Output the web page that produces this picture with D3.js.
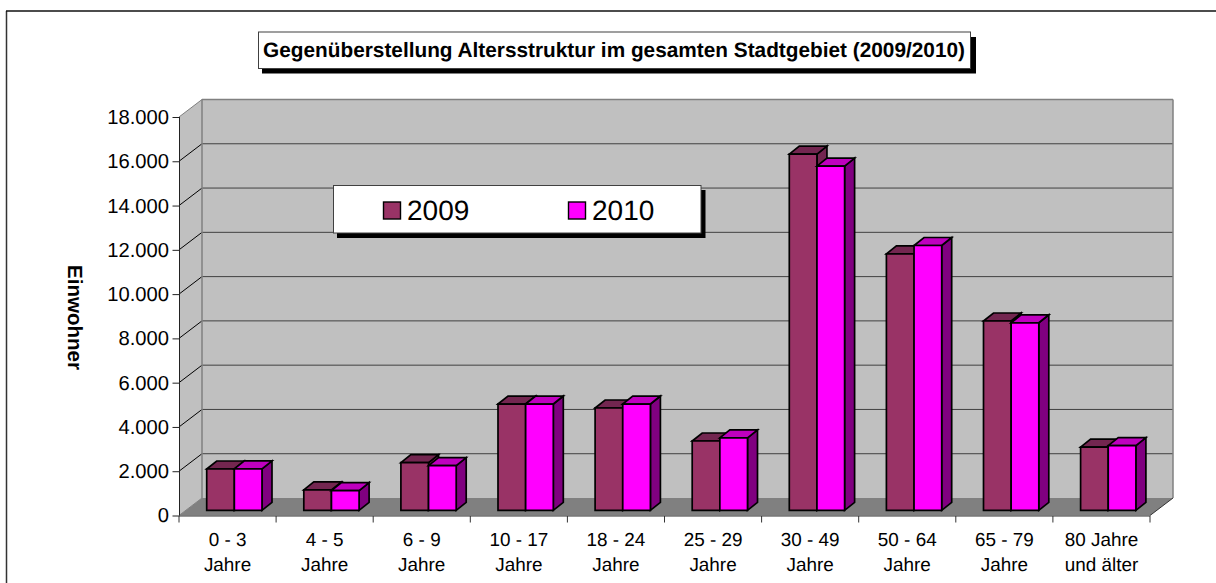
<!DOCTYPE html>
<html><head><meta charset="utf-8"><script src="https://cdn.jsdelivr.net/npm/d3@7"></script>
<style>html,body{margin:0;padding:0;background:#fff;overflow:hidden}svg{display:block}text{font-family:"Liberation Sans",Arial,sans-serif;fill:#000;text-rendering:geometricPrecision}</style></head>
<body><svg id="c" width="1216" height="583"></svg>
<script>
const categories=[["0 - 3","Jahre"],["4 - 5","Jahre"],["6 - 9","Jahre"],["10 - 17","Jahre"],["18 - 24","Jahre"],["25 - 29","Jahre"],["30 - 49","Jahre"],["50 - 64","Jahre"],["65 - 79","Jahre"],["80 Jahre","und älter"]];
const years=["2009","2010"];
const values2009=[1865,920,2150,4800,4620,3130,16090,11580,8550,2850];
const values2010=[1870,890,2015,4800,4800,3270,15550,11960,8470,2920];
const yTicks=[0,2000,4000,6000,8000,10000,12000,14000,16000,18000];
const titleText="Gegenüberstellung Altersstruktur im gesamten Stadtgebiet (2009/2010)";
const yTitle="Einwohner";
const fmt=d=>d===0?"0":d3.format(",")(d).replace(/,/g,".");

const svg=d3.select("#c");
const X0=179,X1=1150,Y0=515.5,Y1=117,DX=23,DY=17.5;
const x=d3.scaleBand().domain(categories.map((d,i)=>i)).range([X0,X1]);
const y=d3.scaleLinear().domain([0,18000]).range([Y0,Y1]);
const poly=(g,pts,fill,stroke,sw)=>g.append("polygon").attr("points",pts.map(p=>p.join(",")).join(" ")).attr("fill",fill).attr("stroke",stroke||"none").attr("stroke-width",sw||0).attr("stroke-linejoin","miter");
const line=(g,a,b,c,w)=>g.append("line").attr("x1",a[0]).attr("y1",a[1]).attr("x2",b[0]).attr("y2",b[1]).attr("stroke",c).attr("stroke-width",w);

// outer frame: only left and top edges fall inside the picture
line(svg,[6.5,11],[6.5,583],"#333",1.5);
line(svg,[6,11],[1216,11],"#111",1.3);

// walls
const g=svg.append("g");
poly(g,[[X0+DX,Y1-DY],[X1+DX,Y1-DY],[X1+DX,Y0-DY],[X0+DX,Y0-DY]],"#c0c0c0");
poly(g,[[X0,Y1],[X0+DX,Y1-DY],[X0+DX,Y0-DY],[X0,Y0]],"#c0c0c0");
poly(g,[[X0,Y0],[X0+DX,Y0-DY],[X1+DX,Y0-DY],[X1,Y0]],"#808080");
// gridlines
yTicks.slice(1).forEach(t=>{
  const yy=y(t);
  if(t<18000){line(g,[X0+DX,yy-DY],[X1+DX,yy-DY],"#404040",1);}
  line(g,[X0,yy],[X0+DX,yy-DY],t<18000?"#000":"#808080",1);
});
// wall borders
line(g,[X0+DX,Y1-DY],[X1+DX,Y1-DY],"#808080",1.5);
line(g,[X0+DX,Y1-DY],[X0+DX,Y0-DY],"#808080",1.5);
line(g,[X1+DX,Y1-DY],[X1+DX,Y0-DY],"#808080",1.5);
line(g,[X0,Y0],[X0+DX,Y0-DY],"#808080",1);
line(g,[X1,Y0],[X1+DX,Y0-DY],"#333",1);

// bars
const inner=d3.scaleBand().domain(years).range([27.7,83]);
const bdx=10,bdy=8,offY=5.2;
function bar(i,yr,v,front,top,side){
  const l=x(i)+inner(yr),r=l+inner.bandwidth(),b=y(0)-offY,t=y(v)-offY;
  const bg=g.append("g");
  poly(bg,[[r,t],[r+bdx,t-bdy],[r+bdx,b-bdy],[r,b]],side,"#000",1.7);
  poly(bg,[[l,t],[l+bdx,t-bdy],[r+bdx,t-bdy],[r,t]],top,"#000",1.7);
  poly(bg,[[l,t],[r,t],[r,b],[l,b]],front,"#000",1.7);
}
categories.forEach((c,i)=>{
  bar(i,years[0],values2009[i],"#993366","#732650","#732650");
  bar(i,years[1],values2010[i],"#ff00ff","#bf00bf","#800080");
});

// axes
const axY=svg.append("g").attr("transform",`translate(${X0+.5},0)`).call(d3.axisLeft(y).tickValues(yTicks).tickFormat(fmt).tickSize(7).tickPadding(0));
axY.select(".domain").attr("stroke","#222").attr("d",`M0,${Y1}V${Y0}`);
axY.selectAll(".tick line").attr("stroke","#222");
axY.selectAll("text").attr("font-size","20.2px").attr("x",-10.5).style("font-family",'"Liberation Sans",Arial,sans-serif');
const axX=svg.append("g").attr("transform",`translate(0,${Y0+.5})`);
line(axX,[X0,0],[X1,0],"#333",1);
d3.range(11).forEach(i=>line(axX,[X0+i*x.bandwidth(),0],[X0+i*x.bandwidth(),6.5],"#333",1));
categories.forEach((c,i)=>{
  c.forEach((s,j)=>axX.append("text").attr("x",x(i)+x.bandwidth()/2).attr("y",j===0?29.5:54.5).attr("text-anchor","middle").attr("font-size","18.9px").text(s));
});
// y title
svg.append("text").attr("transform","translate(68,317.5) rotate(90)").attr("text-anchor","middle").attr("font-size","20.5px").attr("font-weight","bold").text(yTitle);

// title
svg.append("rect").attr("x",262).attr("y",37).attr("width",714).attr("height",36.5).attr("fill","#000");
svg.append("rect").attr("x",258.5).attr("y",32).attr("width",712).attr("height",36.5).attr("fill","#fff").attr("stroke","#404040").attr("stroke-width",1);
svg.append("text").attr("x",614).attr("y",57).attr("text-anchor","middle").attr("font-size","20.8px").attr("font-weight","bold").text(titleText);

// legend
svg.append("rect").attr("x",337).attr("y",190).attr("width",368.5).attr("height",48).attr("fill","#000");
svg.append("rect").attr("x",333.5).attr("y",185.5).attr("width",367.5).attr("height",47.5).attr("fill","#fff").attr("stroke","#404040").attr("stroke-width",1);
const lgX=d3.scalePoint().domain(years).range([383,568]);
[["2009","#993366"],["2010","#ff00ff"]].forEach(([n,c])=>{
  svg.append("rect").attr("x",lgX(n)+.5).attr("y",202).attr("width",17).attr("height",17).attr("fill",c).attr("stroke","#000").attr("stroke-width",1.4);
  svg.append("text").attr("x",lgX(n)+24).attr("y",220).attr("font-size","28px").text(n);
});
</script></body></html>
